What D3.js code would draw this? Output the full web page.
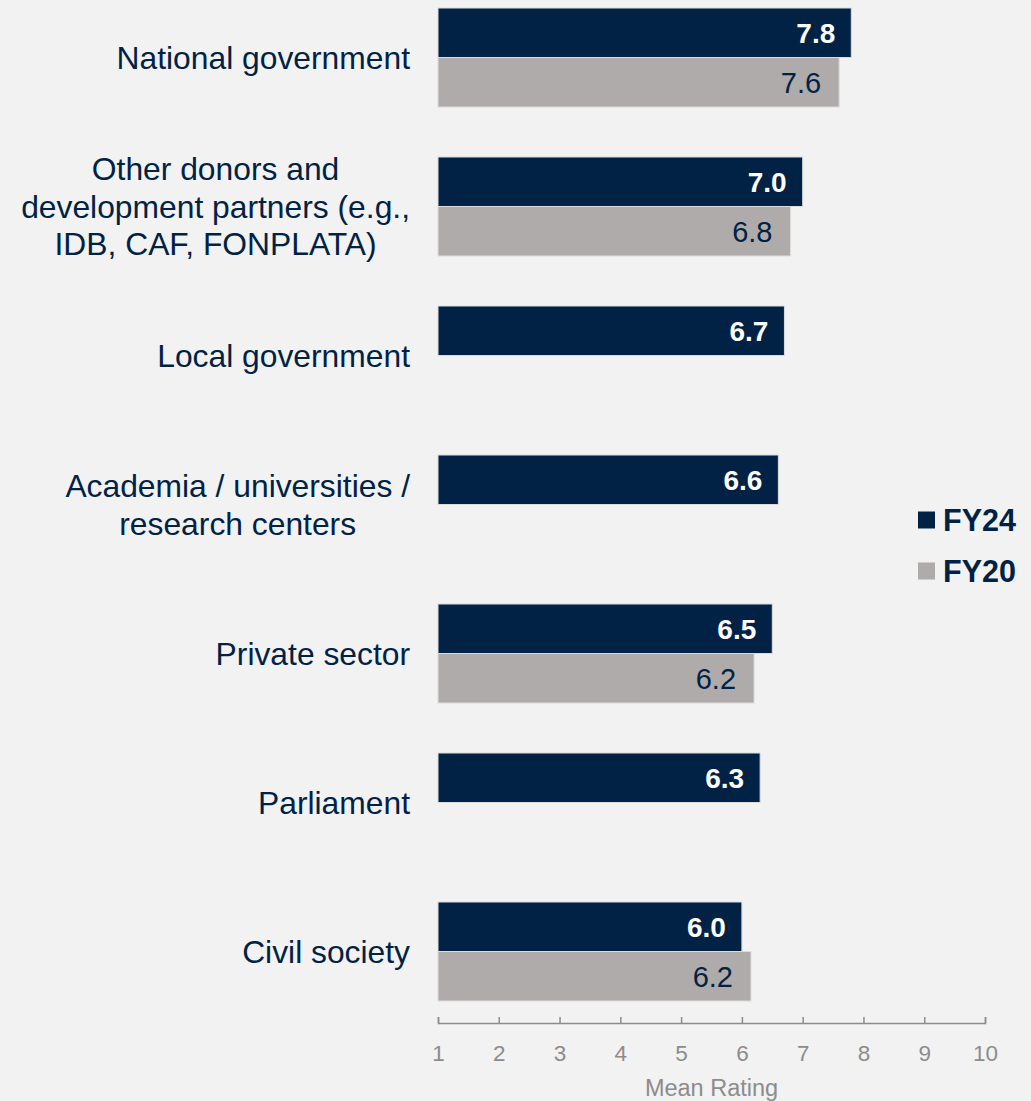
<!DOCTYPE html>
<html>
<head>
<meta charset="utf-8">
<script src="https://cdn.jsdelivr.net/npm/d3@7"></script>
<style>
  body { margin: 0; background: #f2f2f2; }
  svg { display: block; font-family: "Liberation Sans", Arial, sans-serif; }
</style>
</head>
<body>
<svg width="1031" height="1101"></svg>
<script>
// 데이터
const categories = [
  "National government",
  "Other donors and|development partners (e.g.,|IDB, CAF, FONPLATA)",
  "Local government",
  "Academia / universities /|research centers",
  "Private sector",
  "Parliament",
  "Civil society"
];
const seriesNames = ["FY24", "FY20"];
const fy24 = [7.8, 7.0, 6.7, 6.6, 6.5, 6.3, 6.0];
const fy20 = [7.6, 6.8, null, null, 6.2, null, 6.15];
const tickValues = [1, 2, 3, 4, 5, 6, 7, 8, 9, 10];
const axisTitle = "Mean Rating";

const navy = "#012245";
const grey = "#afabaa";

const svg = d3.select("svg");
svg.append("rect").attr("width", 1031).attr("height", 1101).attr("fill", "#f2f2f2");

const x = d3.scaleLinear().domain([1, 10]).range([438, 985]);

const y = d3.scaleBand()
  .domain(categories)
  .range([-17, 1026])
  .paddingInner(0.3356)
  .paddingOuter(0.1678);

const ySub = d3.scaleBand().domain(seriesNames).range([0, y.bandwidth()]);

const rows = categories.map((c, i) => ({ cat: c, FY24: fy24[i], FY20: fy20[i] }));
const fmt = d3.format(".1f");

// 막대
const groups = svg.append("g").selectAll("g")
  .data(rows)
  .join("g")
  .attr("transform", d => `translate(0,${y(d.cat)})`);

groups.selectAll("rect")
  .data(d => seriesNames.filter(s => d[s] != null).map(s => ({ key: s, value: d[s] })))
  .join("rect")
  .attr("x", x(1))
  .attr("y", d => ySub(d.key))
  .attr("width", d => x(d.value) - x(1))
  .attr("height", ySub.bandwidth())
  .attr("fill", d => d.key === "FY24" ? navy : grey)
  .attr("stroke", "#dcdcdc")
  .attr("stroke-width", 1);

// 막대 값 라벨
groups.selectAll("text.val")
  .data(d => seriesNames.filter(s => d[s] != null).map(s => ({ key: s, value: d[s] })))
  .join("text")
  .attr("class", "val")
  .attr("x", d => x(d.value) - (d.key === "FY24" ? 16 : 18))
  .attr("y", d => ySub(d.key) + ySub.bandwidth() / 2)
  .attr("dy", "0.36em")
  .attr("text-anchor", "end")
  .style("font-size", d => d.key === "FY24" ? "28px" : "29px")
  .style("font-weight", d => d.key === "FY24" ? "bold" : "normal")
  .attr("fill", d => d.key === "FY24" ? "#ffffff" : navy)
  .text(d => fmt(d.value));

// 카테고리 라벨 (오른쪽 정렬 블록, 줄마다 가운데 정렬)
const labelRight = 410;
const lineH = 37.5;
categories.forEach(c => {
  const lines = c.split("|");
  const cy = y(c) + y.bandwidth() / 2;
  const t = svg.append("text")
    .attr("fill", navy)
    .style("font-size", "31.8px")
    .attr("text-anchor", "middle");
  const spans = lines.map((ln, i) => t.append("tspan")
    .attr("y", cy + (i - (lines.length - 1) / 2) * lineH)
    .attr("dy", "0.36em")
    .text(ln));
  const maxW = d3.max(spans, s => s.node().getComputedTextLength());
  spans.forEach(s => s.attr("x", labelRight - maxW / 2));
});

// x축
const axisY = 1023;
const axis = svg.append("g")
  .attr("transform", `translate(0,${axisY})`)
  .call(d3.axisBottom(x).tickValues(tickValues).tickSize(-6).tickSizeOuter(-6).tickPadding(22).tickFormat(d3.format("d")));
axis.attr("font-size", null).attr("font-family", null);
axis.select(".domain").attr("stroke", "#8c8c8c").attr("stroke-width", 1.5);
axis.selectAll(".tick line").attr("stroke", "#8c8c8c").attr("stroke-width", 1.5);
axis.selectAll(".tick text")
  .attr("fill", "#8c8c8c")
  .style("font-size", "22.5px");

svg.append("text")
  .attr("x", (x(1) + x(10)) / 2)
  .attr("y", 1088)
  .attr("dy", "0.36em")
  .attr("text-anchor", "middle")
  .attr("fill", "#8c8c8c")
  .style("font-size", "23.5px")
  .text(axisTitle);

// 범례
const legend = svg.append("g");
seriesNames.forEach((s, i) => {
  const ly = 520 + i * 51;
  legend.append("rect")
    .attr("x", 918).attr("y", ly - 8.5)
    .attr("width", 17).attr("height", 17)
    .attr("fill", s === "FY24" ? navy : grey);
  legend.append("text")
    .attr("x", 943).attr("y", ly)
    .attr("dy", "0.36em")
    .attr("fill", navy)
    .style("font-size", "30.5px")
    .style("font-weight", "bold")
    .text(s);
});
</script>
</body>
</html>
